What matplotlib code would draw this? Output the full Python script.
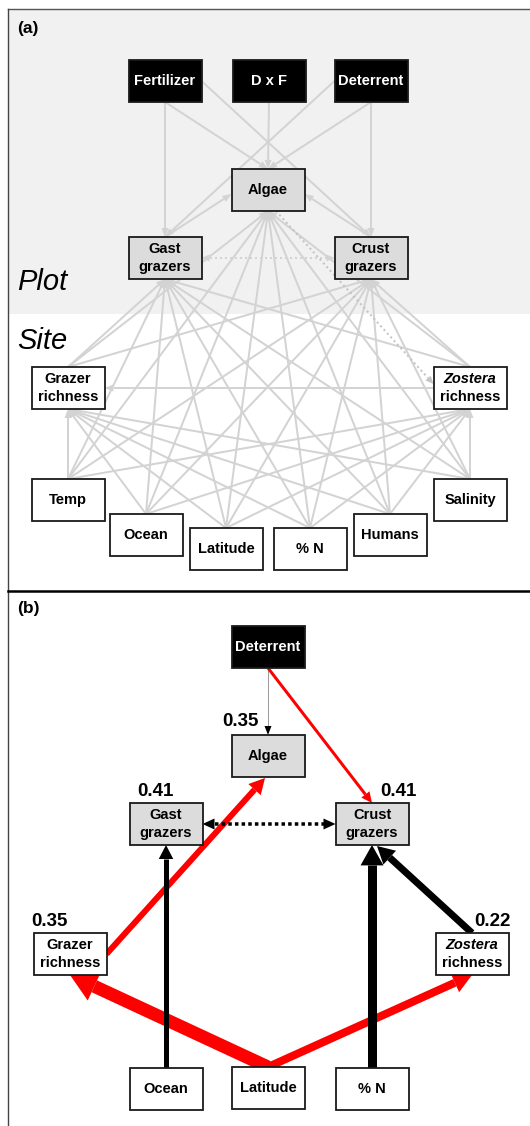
import numpy as np
import matplotlib
matplotlib.use("Agg")
import matplotlib.pyplot as plt
from matplotlib.patches import Rectangle, Polygon

plt.rcParams['font.family'] = ['Liberation Sans', 'DejaVu Sans']

# ---- data ----
treatments = ["Fertilizer", "D x F", "Deterrent"]
plot_vars = ["Algae", "Gast grazers", "Crust grazers"]
site_resp = ["Grazer richness", "Zostera richness"]
site_drivers = ["Temp", "Ocean", "Latitude", "% N", "Humans", "Salinity"]

# full model (a)
treat_paths = [("Fertilizer", "Gast grazers"), ("Fertilizer", "Algae"),
               ("Fertilizer", "Crust grazers"), ("D x F", "Algae"),
               ("Deterrent", "Algae"), ("Deterrent", "Gast grazers"),
               ("Deterrent", "Crust grazers")]
grazer_paths = [("Gast grazers", "Algae"), ("Crust grazers", "Algae")]
resp_paths = [("Zostera richness", "Grazer richness")]
corr_a = [("Gast grazers", "Crust grazers"), ("Algae", "Zostera richness")]

# final model (b)
paths_b = [("Deterrent", "Algae"), ("Deterrent", "Crust grazers"),
           ("Grazer richness", "Algae"), ("Ocean", "Gast grazers"),
           ("% N", "Crust grazers"), ("Zostera richness", "Crust grazers"),
           ("Latitude", "Grazer richness"), ("Latitude", "Zostera richness")]
sign_b = ["ns", "-", "-", "+", "+", "+", "-", "-"]
width_b = [1, 3, 6, 5, 9, 7, 13, 8]
r2_b = {"Algae": "0.35", "Gast grazers": "0.41", "Crust grazers": "0.41",
        "Grazer richness": "0.35", "Zostera richness": "0.22"}

# ---- layout (pixels) ----
pos_a = {"Fertilizer": (165, 81), "D x F": (269, 81), "Deterrent": (371, 81),
         "Algae": (268, 190), "Gast grazers": (165, 258), "Crust grazers": (371, 258),
         "Grazer richness": (68, 388), "Zostera richness": (470, 388),
         "Temp": (68, 500), "Ocean": (146, 535), "Latitude": (226, 549),
         "% N": (310, 549), "Humans": (390, 535), "Salinity": (470, 500)}
pos_b = {"Deterrent": (268, 647), "Algae": (268, 756), "Gast grazers": (166, 824),
         "Crust grazers": (372, 824), "Grazer richness": (70, 954),
         "Zostera richness": (472, 954), "Ocean": (166, 1089),
         "Latitude": (268, 1088), "% N": (372, 1089)}
BW, BH = 73, 42

fig = plt.figure(figsize=(5.30, 11.26), dpi=100)
ax = fig.add_axes([0, 0, 1, 1])
ax.set_xlim(0, 530)
ax.set_ylim(1126, 0)
ax.axis('off')


def anchor(pos, name, side):
    x, y = pos[name]
    return {"top": (x, y - BH / 2), "bottom": (x, y + BH / 2),
            "left": (x - BW / 2, y), "right": (x + BW / 2, y), "c": (x, y)}[side]


def arrow(p0, p1, lw, color, hl, hw, ls='-', z=2, both=False, hcolor=None):
    p0 = np.array(p0, float)
    p1 = np.array(p1, float)
    u = (p1 - p0) / np.linalg.norm(p1 - p0)
    n = np.array([-u[1], u[0]])
    b1 = p1 - u * hl
    b0 = p0 + u * hl if both else p0
    ax.plot([b0[0], b1[0]], [b0[1], b1[1]], color=color, lw=lw * 0.72, ls=ls,
            solid_capstyle='butt', zorder=z)
    hc = hcolor or color
    ax.add_patch(Polygon([p1, b1 + n * hw / 2, b1 - n * hw / 2], closed=True,
                         fc=hc, ec='none', zorder=z))
    if both:
        ax.add_patch(Polygon([p0, b0 + n * hw / 2, b0 - n * hw / 2], closed=True,
                             fc=hc, ec='none', zorder=z))


def box(pos, name, kind):
    x, y = pos[name]
    fc = {"treat": "black", "plot": "#dcdcdc", "site": "white"}[kind]
    tc = "white" if kind == "treat" else "black"
    ax.add_patch(Rectangle((x - BW / 2, y - BH / 2), BW, BH, fc=fc, ec="#1a1a1a",
                           lw=1.3, zorder=5))
    words = name.split(" ", 1) if name not in treatments + ["% N"] else [name]
    if name in ("Algae", "Temp", "Ocean", "Latitude", "Humans", "Salinity"):
        words = [name]
    if len(words) == 1:
        ax.text(x, y, words[0], ha='center', va='center', fontsize=10.5,
                fontweight='bold', color=tc, zorder=6)
    else:
        st = 'italic' if words[0] == "Zostera" else 'normal'
        ax.text(x, y - 9, words[0], ha='center', va='center', fontsize=10.5,
                fontweight='bold', fontstyle=st, color=tc, zorder=6)
        ax.text(x, y + 9, words[1], ha='center', va='center', fontsize=10.5,
                fontweight='bold', color=tc, zorder=6)


def kind_of(name):
    if name in treatments:
        return "treat"
    if name in plot_vars:
        return "plot"
    return "site"


# ---- frame ----
ax.add_patch(Rectangle((8.5, 9.5), 530, 304, fc="#f1f1f1", ec='none', zorder=0))
ax.plot([8, 530], [9, 9], color="#555555", lw=1, zorder=1)
ax.plot([8, 8], [9, 1126], color="#444444", lw=1, zorder=1)
ax.plot([8, 530], [591, 591], color="black", lw=1.8, zorder=1)

ax.text(17, 28, "(a)", fontsize=12.5, fontweight='bold', ha='left', va='center')
ax.text(17, 608, "(b)", fontsize=12.5, fontweight='bold', ha='left', va='center')
ax.text(17, 290, "Plot", fontsize=21, fontstyle='italic', ha='left', va='baseline')
ax.text(17, 349, "Site", fontsize=21, fontstyle='italic', ha='left', va='baseline')

# ---- panel (a) ----
GREY = "#d3d3d3"
side_src = {("Fertilizer", "Crust grazers"): "right",
            ("Deterrent", "Gast grazers"): "left"}
for s, t in treat_paths:
    arrow(anchor(pos_a, s, side_src.get((s, t), "bottom")), anchor(pos_a, t, "top"),
          2, GREY, 9, 7)
arrow(anchor(pos_a, "Gast grazers", "top"), (pos_a["Algae"][0] - BW / 2, 194), 2, GREY, 9, 7)
arrow(anchor(pos_a, "Crust grazers", "top"), (pos_a["Algae"][0] + BW / 2, 194), 2, GREY, 9, 7)
for s in site_drivers + site_resp:
    for t in plot_vars:
        arrow(anchor(pos_a, s, "top"), anchor(pos_a, t, "bottom"), 2, GREY, 9, 7)
for s in site_drivers:
    for t in site_resp:
        arrow(anchor(pos_a, s, "top"), anchor(pos_a, t, "bottom"), 2, GREY, 9, 7)
for s, t in resp_paths:
    arrow(anchor(pos_a, s, "left"), anchor(pos_a, t, "right"), 2, GREY, 9, 7)
arrow(anchor(pos_a, corr_a[0][0], "right"), anchor(pos_a, corr_a[0][1], "left"),
      2, GREY, 8, 7, ls=(0, (1, 1.5)), both=True)
arrow((pos_a["Algae"][0] + 8, pos_a["Algae"][1] + BH / 2),
      (pos_a["Zostera richness"][0] - BW / 2, pos_a["Zostera richness"][1] - 4),
      2, "#c4c4c4", 8, 7, ls=(0, (1, 1.5)))

for name in pos_a:
    box(pos_a, name, kind_of(name))

# ---- panel (b) ----
col = {"+": "black", "-": "#ff0000", "ns": "#9a9a9a"}
anch_b = {("Grazer richness", "Algae"): ("right", (265, 778)),
          ("Zostera richness", "Crust grazers"): ("top", (377, 846))}
for (s, t), sg, w in zip(paths_b, sign_b, width_b):
    if (s, t) in anch_b:
        sa, p1 = anch_b[(s, t)]
        p0 = anchor(pos_b, s, sa)
        if sa == "right":
            p0 = (p0[0], p0[1])
    else:
        p0 = anchor(pos_b, s, "bottom" if pos_b[s][1] < pos_b[t][1] else "top")
        p1 = anchor(pos_b, t, "top" if pos_b[s][1] < pos_b[t][1] else "bottom")
    hw = max(7, w * 2.1 + 4)
    hl = max(9, w * 1.6 + 6)
    z = 3 if sg == "+" else 2
    arrow(p0, p1, w, col[sg], hl, hw, z=z, hcolor="black" if sg == "ns" else None)
arrow(anchor(pos_b, "Gast grazers", "right"), anchor(pos_b, "Crust grazers", "left"),
      3.5, "black", 12, 11, ls=(0, (1, 0.9)), both=True)

for name in pos_b:
    box(pos_b, name, kind_of(name))

lab_b = {"Algae": (259, 721, 'right'), "Gast grazers": (137, 792, 'left'),
         "Crust grazers": (380, 792, 'left'), "Grazer richness": (31, 922, 'left'),
         "Zostera richness": (511, 922, 'right')}
for name, (x, y, ha) in lab_b.items():
    ax.text(x, y, r2_b[name], fontsize=13.5, fontweight='bold', ha=ha, va='center')

fig.savefig("out.png", dpi=100)
